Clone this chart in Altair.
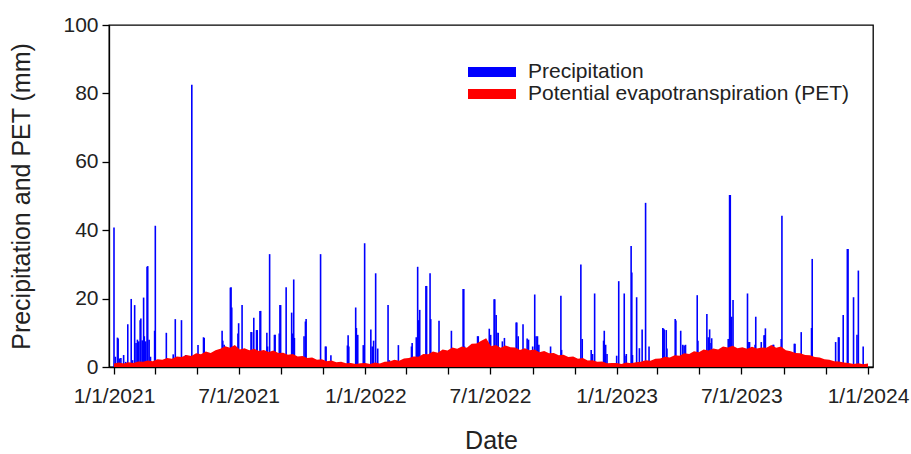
import altair as alt
import pandas as pd

# ---------------- data ----------------
# Daily precipitation events: day offset from 1/1/2021 and amount (mm)
precip_day = [
    0, 2, 5, 6, 8, 10, 14, 17, 20, 25, 27, 30, 32, 34, 36, 38, 39, 41, 43, 44, 46, 48, 49, 51, 53,
    59, 60, 76, 86, 89, 98, 104, 113, 122, 130, 131, 157, 158, 160, 169, 170, 171, 175,
    180, 181, 186, 199, 200, 203, 207, 208, 212, 213, 222, 223, 226, 233, 234, 240, 241, 242,
    250, 258, 259, 261, 262, 276, 278, 279, 300, 307, 308, 315, 339, 340, 341, 351, 352, 354, 362,
    364, 373, 375, 377, 380, 383, 398, 400, 413, 432, 433, 439, 441, 442, 444, 453, 454, 459, 460,
    472, 490, 507, 508, 509, 528, 529, 545, 547, 552, 553, 555, 556, 558, 564, 567, 584, 585, 587,
    594, 600, 602, 608, 611, 613, 615, 617, 634, 649, 650, 678, 680, 693, 695, 698, 711, 712, 714, 716,
    730, 733, 741, 742, 744, 751, 752, 753, 759, 763, 767, 772, 777, 797, 798, 799, 802, 803,
    815, 816, 823, 826, 828, 830, 847, 848, 861, 863, 865, 867, 868, 892, 894, 895, 897, 899,
    920, 922, 923, 931, 932, 940, 944, 945, 946, 957, 958, 969, 970, 988, 989, 998, 1013, 1014,
    1048, 1052, 1053, 1059, 1065, 1066, 1074, 1079, 1081, 1088,
]
precip_mm = [
    40.8, 3.0, 8.6, 8.3, 2.5, 2.6, 3.5, 1.5, 12.5, 19.9, 2.0, 18.1, 7.0, 8.0, 7.5, 13.7, 14.2, 7.8, 20.3, 9.0, 7.5, 29.3, 29.5, 8.0, 3.0,
    10.6, 41.3, 10.0, 3.7, 14.0, 13.7, 3.5, 82.5, 6.4, 8.7, 8.5, 10.6, 7.7, 6.5, 23.2, 23.3, 17.4, 6.0,
    9.8, 12.8, 18.1, 10.2, 10.2, 14.4, 10.8, 10.8, 16.4, 16.4, 10.0, 6.0, 33.0, 9.4, 9.4, 9.8, 18.1, 18.1,
    23.3, 15.9, 9.8, 25.6, 8.5, 9.0, 13.3, 14.0, 33.0, 6.0, 6.0, 3.4, 6.3, 9.3, 6.0, 17.4, 11.4, 9.4, 6.4,
    36.2, 11.0, 6.0, 7.7, 27.4, 5.4, 18.1, 2.0, 6.4, 6.0, 7.0, 8.7, 29.3, 13.7, 16.7, 23.7, 23.7, 27.4, 14.0,
    13.5, 10.6, 22.8, 22.8, 6.0, 9.0, 9.0, 11.2, 9.4, 19.8, 19.8, 15.2, 10.0, 10.0, 7.5, 8.5, 13.0, 13.0, 9.0,
    12.5, 8.3, 8.0, 6.0, 21.2, 9.0, 9.0, 6.5, 6.0, 20.8, 5.0, 30.0, 8.2, 5.0, 3.8, 21.5, 7.7, 10.6, 6.5, 3.8,
    3.3, 25.1, 21.5, 3.3, 3.8, 35.4, 27.6, 3.5, 20.4, 5.5, 11.0, 48.0, 6.0, 11.4, 11.2, 11.0, 10.8, 5.4,
    14.0, 13.6, 10.6, 6.5, 6.3, 6.5, 21.0, 7.7, 15.5, 8.7, 11.0, 7.0, 8.4, 8.2, 50.3, 50.3, 14.7, 19.6,
    21.5, 7.3, 7.3, 6.5, 14.7, 7.3, 9.3, 9.3, 11.3, 6.5, 6.5, 8.2, 44.2, 6.8, 6.8, 10.2, 11.4, 31.6,
    7.3, 8.7, 8.7, 15.2, 34.5, 34.5, 20.4, 9.4, 28.2, 6.0,
]

# Potential evapotranspiration, roughly weekly readings (mm)
pet_2021 = [1.0, 1.3, 1.0, 1.4, 1.2, 1.6, 1.5, 1.9, 1.7, 2.3, 2.1, 2.6, 2.4, 3.1, 2.9, 3.5, 3.2,
            4.0, 3.7, 4.5, 4.1, 4.9, 5.3, 6.1, 5.6, 6.4, 5.1, 5.5, 4.9, 5.3, 4.7, 5.0, 4.4, 4.8, 4.1,
            4.2, 3.6, 3.8, 3.1, 3.2, 2.6, 2.8, 2.1, 2.3, 1.7, 1.9, 1.4, 1.5, 1.1, 1.2, 0.9, 1.1]
pet_2022 = [1.2, 0.9, 1.3, 1.0, 1.5, 1.6, 2.1, 1.8, 2.5, 2.6, 3.1, 3.0, 3.8, 3.7, 4.5, 4.2, 5.1,
            4.8, 5.7, 5.3, 6.0, 5.6, 6.8, 6.9, 7.7, 8.4, 6.1, 6.4, 5.6, 6.3, 5.8, 5.7, 5.0, 5.5, 4.9,
            5.1, 4.3, 4.7, 4.0, 4.1, 3.4, 3.6, 2.9, 3.1, 2.4, 2.6, 1.9, 2.0, 1.5, 1.6, 1.1, 1.2]
pet_2023 = [1.2, 0.9, 1.3, 1.1, 1.4, 1.5, 2.0, 1.8, 2.4, 2.5, 3.0, 2.8, 3.4, 3.3, 4.0, 3.8, 4.6,
            4.3, 5.1, 4.8, 5.4, 5.1, 6.0, 5.7, 6.2, 5.5, 5.8, 5.3, 5.9, 5.4, 5.7, 5.6, 6.4, 5.6, 6.0,
            4.9, 4.6, 4.1, 4.0, 3.5, 3.4, 2.9, 2.8, 2.3, 2.1, 1.7, 1.6, 1.3, 1.2, 0.9, 1.1, 0.8, 1.0]

series_names = ["Precipitation", "Potential evapotranspiration (PET)"]
series_colors = ["#0000FF", "#FF0000"]

# ---------------- tables ----------------
start = pd.Timestamp("2021-01-01")
precip_df = pd.DataFrame({
    "date": (start + pd.to_timedelta(precip_day, unit="D")).strftime("%Y-%m-%dT%H:%M:%S"),
    "mm": precip_mm,
    "series": series_names[0],
})
pet_vals = pet_2021 + pet_2022 + pet_2023
pet_dates = pd.date_range("2021-01-01", "2024-01-01", periods=len(pet_vals))
pet_df = pd.DataFrame({
    "date": pet_dates.strftime("%Y-%m-%dT%H:%M:%S"),
    "mm": pet_vals,
    "series": series_names[1],
})

FONT = "Liberation Sans"

tick_dates = []
for y in (2021, 2022, 2023):
    for m in (1, 3, 5, 7, 9, 11):
        tick_dates.append(alt.DateTime(year=y, month=m, date=1))
tick_dates.append(alt.DateTime(year=2024, month=1, date=1))

x_enc = alt.X(
    "date:T",
    scale=alt.Scale(domain=[alt.DateTime(year=2021, month=1, date=1),
                            alt.DateTime(year=2024, month=1, date=1)]),
    axis=alt.Axis(
        values=tick_dates,
        labelExpr="(month(datum.value) == 0 || month(datum.value) == 6) ? timeFormat(datum.value, '%-m/%-d/%Y') : ''",
        title="Date",
        titleX=382,
        titleY=73,
        titleBaseline="middle",
        labelPadding=11,
        labelFlush=False,
        labelOverlap=False,
    ),
)
y_enc = alt.Y(
    "mm:Q",
    scale=alt.Scale(domain=[0, 100], nice=False),
    axis=alt.Axis(
        values=[0, 20, 40, 60, 80, 100],
        title="Precipitation and PET (mm)",
        titleX=-88,
        titleY=171,
        titleAngle=270,
        titleAlign="center",
        titleBaseline="middle",
        labelPadding=4,
    ),
)
color_enc = alt.Color(
    "series:N",
    scale=alt.Scale(domain=series_names, range=series_colors),
    legend=alt.Legend(
        title=None,
        orient="none",
        legendX=371,
        legendY=35,
        symbolType="M-2,-0.42H2V0.42H-2Z",
        symbolSize=576,
        symbolStrokeWidth=0,
        labelFont=FONT,
        labelFontSize=21,
        labelColor="#222222",
        labelLimit=0,
        labelOffset=24,
        rowPadding=-1,
        padding=0,
    ),
)

bars = alt.Chart(precip_df).mark_bar(width=1.6, opacity=1).encode(
    x=x_enc, y=y_enc, color=color_enc
)
area = alt.Chart(pet_df).mark_area(opacity=1, interpolate="linear").encode(
    x=x_enc, y=y_enc, color=color_enc
)

chart = (
    alt.layer(bars, area)
    .properties(
        width=764,
        height=342,
        autosize=alt.AutoSizeParams(type="none"),
        padding={"left": 109, "top": 25, "right": 38, "bottom": 87},
        background="white",
    )
    .configure_view(stroke="black", strokeWidth=1.3)
    .configure_axis(
        labelFont=FONT,
        titleFont=FONT,
        labelFontSize=21,
        titleFontSize=25,
        titleFontWeight="normal",
        labelColor="#222222",
        titleColor="#222222",
        grid=False,
        domainColor="black",
        domainWidth=1.3,
        tickColor="black",
        tickWidth=1.3,
        tickSize=7,
    )
)

chart.save("out.html", embed_options={"renderer": "svg", "actions": False})
